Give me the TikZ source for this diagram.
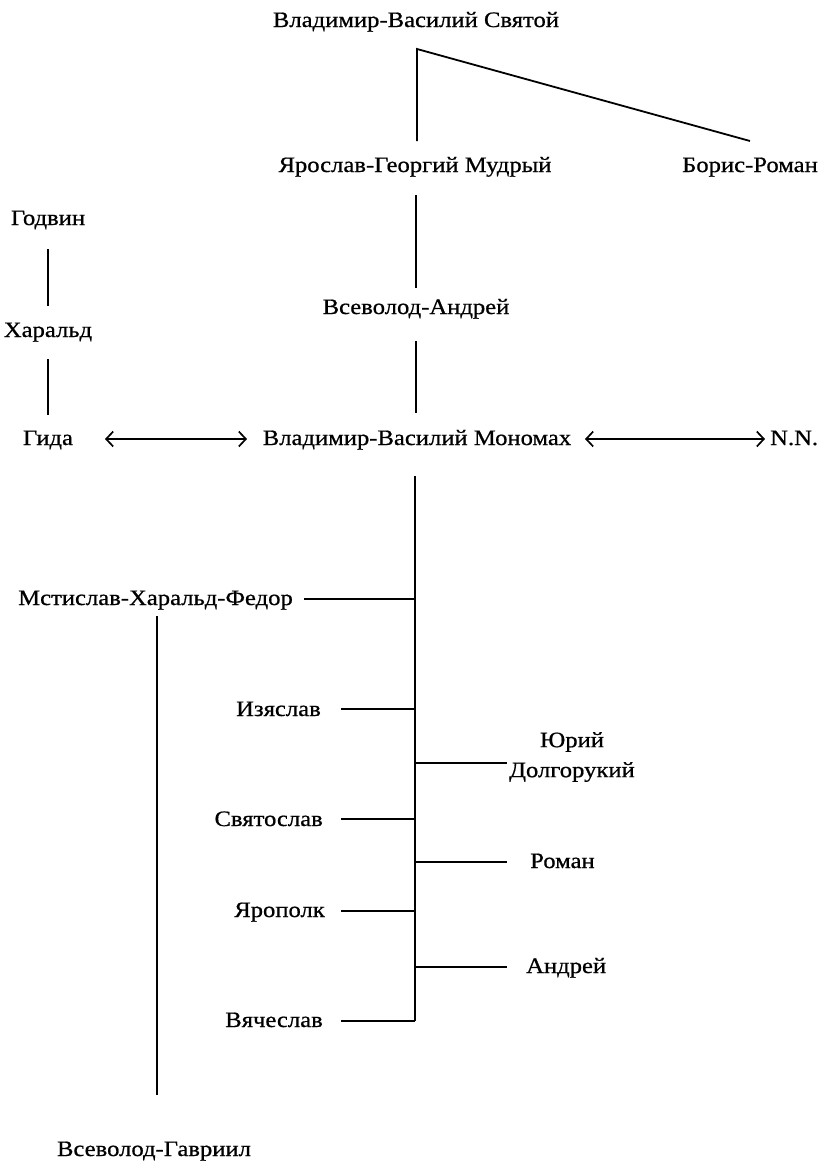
\documentclass[tikz,border=0pt]{standalone}
\usepackage{fontspec}
\setmainfont{Liberation Serif}[FakeStretch=1.12,FakeBold=0.7]
\usetikzlibrary{arrows.meta}
\begin{document}
\begin{tikzpicture}[x=1pt,y=-1pt,
  lbl/.style={anchor=base,inner sep=0pt,font=\fontsize{22}{30}\selectfont},
  lblr/.style={lbl,anchor=base east},
  lbll/.style={lbl,anchor=base west},
  ln/.style={line width=1.8pt,line cap=butt},
  dbl/.style={line width=1.7pt,{Straight Barb[length=7pt,width=15pt,line width=1.7pt]}-{Straight Barb[length=7pt,width=15pt,line width=1.7pt]}}]
\useasboundingbox (0,0) rectangle (827,1170);
\fill[white] (0,0) rectangle (827,1170);
% names
\node[lbl] (vs) at (416,27) {Владимир-Василий Святой};
\node[lbl] (yar) at (415,172) {Ярослав-Георгий Мудрый};
\node[lbl] (bor) at (750,172) {Борис-Роман};
\node[lbl] (vsa) at (416,314) {Всеволод-Андрей};
\node[lbl] (god) at (48,225) {Годвин};
\node[lbl] (har) at (48,337) {Харальд};
\node[lbl] (gida) at (48,445) {Гида};
\node[lbl] (mon) at (417,445) {Владимир-Василий Мономах};
\node[lbll] (nn) at (770,445) {N.N.};
\node[lblr] (mst) at (293,605) {Мстислав-Харальд-Федор};
\node[lblr] (izy) at (321,716) {Изяслав};
\node[lbl,align=center,anchor=west] (yur) at (509,757) {Юрий\\Долгорукий};
\node[lblr] (svy) at (323,826) {Святослав};
\node[lbll] (rom) at (530,868) {Роман};
\node[lblr] (yap) at (325,917) {Ярополк};
\node[lbll] (and) at (526,973) {Андрей};
\node[lblr] (vya) at (323,1027) {Вячеслав};
\node[lbl] (vsg) at (154,1156) {Всеволод-Гавриил};
% connector points
\coordinate (c0) at (417,49);
\coordinate (c1) at (417,141);
\coordinate (c2) at (750,141);
\coordinate (y1) at (416,195);
\coordinate (y2) at (416,288);
\coordinate (a1) at (416,341);
\coordinate (a2) at (416,413);
\coordinate (g1) at (48,249);
\coordinate (g2) at (48,306);
\coordinate (h1) at (48,359);
\coordinate (h2) at (48,415);
\coordinate (t0) at (415,476);
\coordinate (t1) at (415,1021);
\coordinate (m1) at (157,616);
\coordinate (m2) at (157,1095);
\coordinate (ga) at (105,439);
\coordinate (ma) at (247,439);
\coordinate (mb) at (585,439);
\coordinate (na) at (765,439);
% lines
\draw[ln] (c1) -- (c0) -- (c2);
\draw[ln] (y1) -- (y2);
\draw[ln] (a1) -- (a2);
\draw[ln] (g1) -- (g2);
\draw[ln] (h1) -- (h2);
\draw[ln] (t0) -- (t1);
\draw[ln] (m1) -- (m2);
\draw[dbl] (ga) -- (ma);
\draw[dbl] (mb) -- (na);
% branches
\draw[ln] (304,599) -- (415,599);
\draw[ln] (341,709) -- (415,709);
\draw[ln] (415,763) -- (507,763);
\draw[ln] (341,819) -- (415,819);
\draw[ln] (415,862) -- (507,862);
\draw[ln] (341,911) -- (415,911);
\draw[ln] (415,967) -- (507,967);
\draw[ln] (341,1021) -- (415,1021);
\end{tikzpicture}
\end{document}
